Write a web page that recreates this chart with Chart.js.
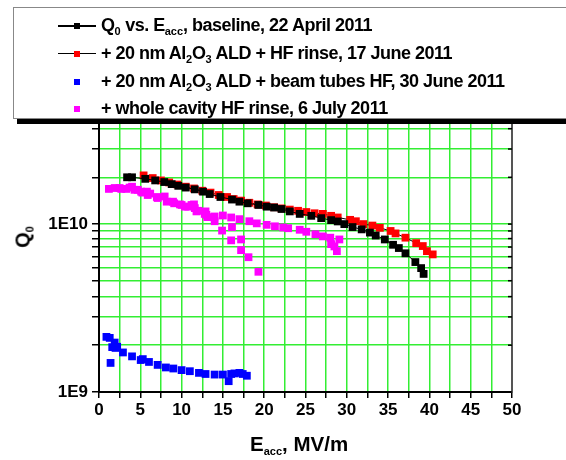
<!DOCTYPE html>
<html>
<head>
<meta charset="utf-8">
<script src="https://cdn.jsdelivr.net/npm/chart.js@4.4.1/dist/chart.umd.min.js"></script>
<style>
    body { margin: 0; background: #fff; overflow: hidden; }
    #wrap { position: relative; width: 566px; height: 460px; overflow: hidden; font-family: "Liberation Sans", Arial, sans-serif; font-weight: bold; color: #000; }
    #chart { position: absolute; left: 0; top: 0; }
    #legend { position: absolute; left: 13px; top: 7px; width: 553px; height: 112px; border: 1px solid #888; border-right: 0; background: #fff; box-shadow: 4px 5px 0 #000; padding-top: 4px; box-sizing: border-box; }
    .row { position: relative; height: 27.8px; line-height: 27.8px; font-size: 18px; letter-spacing: -0.5px; white-space: nowrap; }
    .row .ln { position: absolute; left: 44px; width: 38px; top: 13px; height: 1.5px; background: #000; }
    .row .mk { position: absolute; left: 60px; top: 11px; width: 6px; height: 6px; }
    .row .tx { position: absolute; left: 87px; top: 0; }
    sub { font-size: 11px; vertical-align: -4px; line-height: 0; letter-spacing: 0; }
    #xtitle { position: absolute; left: 250px; top: 432px; font-size: 20.5px; white-space: nowrap; }
    #ytitle { position: absolute; left: 23px; top: 237px; font-size: 20px; white-space: nowrap; transform: translate(-50%, -50%) rotate(-90deg); }
</style>
</head>
<body>
<div id="wrap">
    <canvas id="chart" width="566" height="460"></canvas>
    <div id="legend"></div>
    <div id="xtitle">E<sub>acc</sub>, MV/m</div>
    <div id="ytitle">Q<sub>0</sub></div>
</div>
<script>
// Q0 vs Eacc data
const baselineE = [3.4, 4.0, 5.6, 6.8, 7.9, 8.8, 9.6, 10.5, 11.6, 12.6, 13.4, 14.7, 16.1, 17.0, 18.0, 19.3, 20.3, 21.2, 22.1, 23.1, 24.3, 25.7, 26.9, 28.1, 28.9, 29.7, 30.7, 31.8, 32.8, 33.5, 34.6, 35.6, 36.3, 37.1, 38.3, 39.0, 39.3];
const baselineQ = [1.9e10, 1.9e10, 1.86e10, 1.82e10, 1.78e10, 1.73e10, 1.69e10, 1.65e10, 1.61e10, 1.56e10, 1.51e10, 1.45e10, 1.4e10, 1.36e10, 1.33e10, 1.3e10, 1.27e10, 1.255e10, 1.23e10, 1.19e10, 1.15e10, 1.12e10, 1.085e10, 1.056e10, 1.037e10, 1.0e10, 9.6e9, 9.3e9, 8.9e9, 8.55e9, 8.1e9, 7.53e9, 7.2e9, 6.7e9, 5.94e9, 5.47e9, 5.05e9];

const hfRinseE = [5.4, 6.5, 7.5, 8.5, 9.5, 10.5, 11.5, 12.5, 13.5, 14.5, 15.5, 16.3, 17.2, 18.2, 19.2, 20.2, 21.2, 22.1, 23.1, 24.1, 25.1, 26.1, 27.1, 28.1, 28.9, 30.4, 31.1, 32.0, 33.1, 34.0, 35.3, 35.9, 37.1, 38.4, 39.2, 39.7, 40.4];
const hfRinseQ = [1.95e10, 1.88e10, 1.82e10, 1.77e10, 1.72e10, 1.67e10, 1.63e10, 1.58e10, 1.54e10, 1.49e10, 1.45e10, 1.41e10, 1.38e10, 1.34e10, 1.31e10, 1.29e10, 1.26e10, 1.24e10, 1.22e10, 1.2e10, 1.18e10, 1.16e10, 1.15e10, 1.12e10, 1.095e10, 1.06e10, 1.04e10, 1.0e10, 9.8e9, 9.5e9, 9.1e9, 8.8e9, 8.3e9, 7.7e9, 7.4e9, 6.9e9, 6.6e9];

const beamTubesE = [0.9, 1.3, 1.9, 1.6, 2.0, 2.2, 1.4, 2.9, 4.0, 5.05, 5.3, 6.05, 7.1, 8.1, 9.0, 10.0, 11.0, 12.1, 12.9, 14.0, 15.0, 15.7, 16.0, 16.4, 17.0, 17.4, 17.9];
const beamTubesQ = [2.13e9, 2.1e9, 1.97e9, 1.85e9, 1.83e9, 1.86e9, 1.49e9, 1.72e9, 1.63e9, 1.55e9, 1.57e9, 1.51e9, 1.45e9, 1.4e9, 1.38e9, 1.35e9, 1.33e9, 1.3e9, 1.28e9, 1.27e9, 1.27e9, 1.16e9, 1.28e9, 1.29e9, 1.3e9, 1.28e9, 1.25e9];

const wholeCavityE = [1.2, 1.9, 2.5, 2.7, 3.3, 3.7, 4.0, 4.3, 4.7, 5.1, 5.25, 5.8, 5.9, 6.2, 7.0, 7.1, 7.95, 8.2, 8.96, 9.1, 9.8, 10.0, 10.4, 10.8, 11.2, 11.5, 11.6, 11.8, 12.0, 12.8, 12.9, 13.0, 13.1, 14.0, 14.0, 15.0, 14.9, 16.0, 16.1, 16.0, 17.0, 17.2, 17.2, 18.1, 18.2, 19.1, 19.3, 20.3, 21.3, 22.3, 22.9, 24.3, 25.1, 26.2, 27.1, 28.0, 29.1, 28.1, 28.5, 28.8];
const wholeCavityQ = [1.62e10, 1.64e10, 1.64e10, 1.62e10, 1.62e10, 1.65e10, 1.67e10, 1.6e10, 1.6e10, 1.56e10, 1.54e10, 1.56e10, 1.49e10, 1.52e10, 1.45e10, 1.43e10, 1.46e10, 1.36e10, 1.36e10, 1.33e10, 1.31e10, 1.3e10, 1.27e10, 1.27e10, 1.3e10, 1.31e10, 1.245e10, 1.19e10, 1.2e10, 1.15e10, 1.19e10, 1.135e10, 1.1e10, 1.11e10, 1.04e10, 1.125e10, 9.15e9, 1.095e10, 9.6e9, 8.0e9, 1.07e10, 8.1e9, 7.0e9, 6.35e9, 1.04e10, 1.01e10, 5.2e9, 9.9e9, 9.7e9, 9.55e9, 9.45e9, 9.25e9, 9.0e9, 8.7e9, 8.45e9, 8.3e9, 8.1e9, 7.6e9, 7.36e9, 6.9e9];

const seriesLabels = [
    'Q<sub>0</sub> vs. E<sub>acc</sub>, baseline, 22 April 2011',
    '+ 20 nm Al<sub>2</sub>O<sub>3</sub> ALD + HF rinse, 17 June 2011',
    '+ 20 nm Al<sub>2</sub>O<sub>3</sub> ALD + beam tubes HF, 30 June 2011',
    '+ whole cavity HF rinse, 6 July 2011'
];
const seriesColors = ['#000000', '#ff0000', '#0000ff', '#ff00ff'];
const seriesLines = [true, true, false, false];

const xTicks = [0, 5, 10, 15, 20, 25, 30, 35, 40, 45, 50];
const yTicks = [1e9, 1.9e9, 2.8e9, 3.7e9, 4.6e9, 5.5e9, 6.4e9, 7.3e9, 8.2e9, 9.1e9, 1e10, 1.9e10, 2.8e10, 3.7e10];
const yTickLabels = { 1e9: '1E9', 1e10: '1E10' };

const gridGreen = '#33ee33';
const tickFont = { family: '"Liberation Sans", Arial, sans-serif', size: 17, weight: 'bold' };

function toPoints(xs, ys) {
    return xs.map((x, i) => ({ x: x, y: ys[i] }));
}

const seriesData = [
    toPoints(baselineE, baselineQ),
    toPoints(hfRinseE, hfRinseQ),
    toPoints(beamTubesE, beamTubesQ),
    toPoints(wholeCavityE, wholeCavityQ)
];

// legend in html so the subscripts stay real text
const legendEl = document.getElementById('legend');
seriesLabels.forEach((label, i) => {
    const row = document.createElement('div');
    row.className = 'row';
    row.innerHTML = (seriesLines[i] ? '<span class="ln"></span>' : '') +
        '<span class="mk" style="background:' + seriesColors[i] + '"></span>' +
        '<span class="tx">' + label + '</span>';
    legendEl.appendChild(row);
});

// right frame with inward ticks
const framePlugin = {
    id: 'frame',
    afterDraw(chart) {
        const { ctx, chartArea } = chart;
        const yScale = chart.scales.y;
        ctx.save();
        ctx.strokeStyle = '#555';
        ctx.lineWidth = 2;
        ctx.beginPath();
        ctx.moveTo(chartArea.right, chartArea.top);
        ctx.lineTo(chartArea.right, chartArea.bottom + 1);
        ctx.stroke();
        ctx.strokeStyle = '#000';
        ctx.lineWidth = 1.5;
        yScale.ticks.forEach(t => {
            const py = yScale.getPixelForValue(t.value);
            ctx.beginPath();
            ctx.moveTo(chartArea.right - 4, py);
            ctx.lineTo(chartArea.right, py);
            ctx.stroke();
        });
        ctx.restore();
    }
};

const ctx = document.getElementById('chart').getContext('2d');
new Chart(ctx, {
    type: 'scatter',
    data: {
        datasets: seriesData.map((pts, i) => ({
            label: seriesLabels[i],
            data: pts,
            showLine: seriesLines[i],
            borderColor: '#000',
            borderWidth: 1,
            backgroundColor: seriesColors[i],
            pointStyle: 'rect',
            pointRadius: 5.5,
            pointBorderWidth: 0,
            pointBackgroundColor: seriesColors[i],
            pointHoverRadius: 5.5
        }))
    },
    options: {
        responsive: false,
        animation: false,
        devicePixelRatio: 1,
        layout: { padding: { left: 0, right: 54, top: 123, bottom: 0 } },
        plugins: {
            legend: { display: false },
            tooltip: { enabled: false }
        },
        scales: {
            x: {
                type: 'linear',
                min: 0,
                max: 50,
                afterFit: scale => { scale.height = 68; },
                afterBuildTicks: scale => {
                    const t = [];
                    for (let i = 0; i <= 20; i++) t.push({ value: i * 2.5 });
                    scale.ticks = t;
                },
                ticks: {
                    font: tickFont,
                    color: '#000',
                    padding: 2,
                    maxRotation: 0,
                    autoSkip: false,
                    callback: v => xTicks.includes(v) ? String(v) : ''
                },
                grid: { color: gridGreen, lineWidth: 1.5, tickColor: '#000', tickWidth: 1.5, tickLength: 6 },
                border: { color: '#000', width: 2 }
            },
            y: {
                type: 'logarithmic',
                min: 1e9,
                max: 4e10,
                afterFit: scale => { scale.width = 99; },
                afterBuildTicks: scale => {
                    scale.ticks = yTicks.map(v => ({ value: v }));
                },
                ticks: {
                    font: tickFont,
                    color: '#000',
                    padding: 4,
                    autoSkip: false,
                    callback: v => yTickLabels[v] || ''
                },
                grid: { color: gridGreen, lineWidth: 1.5, tickColor: '#000', tickWidth: 1.5, tickLength: 7 },
                border: { color: '#000', width: 2 }
            }
        }
    },
    plugins: [framePlugin]
});
</script>
</body>
</html>
